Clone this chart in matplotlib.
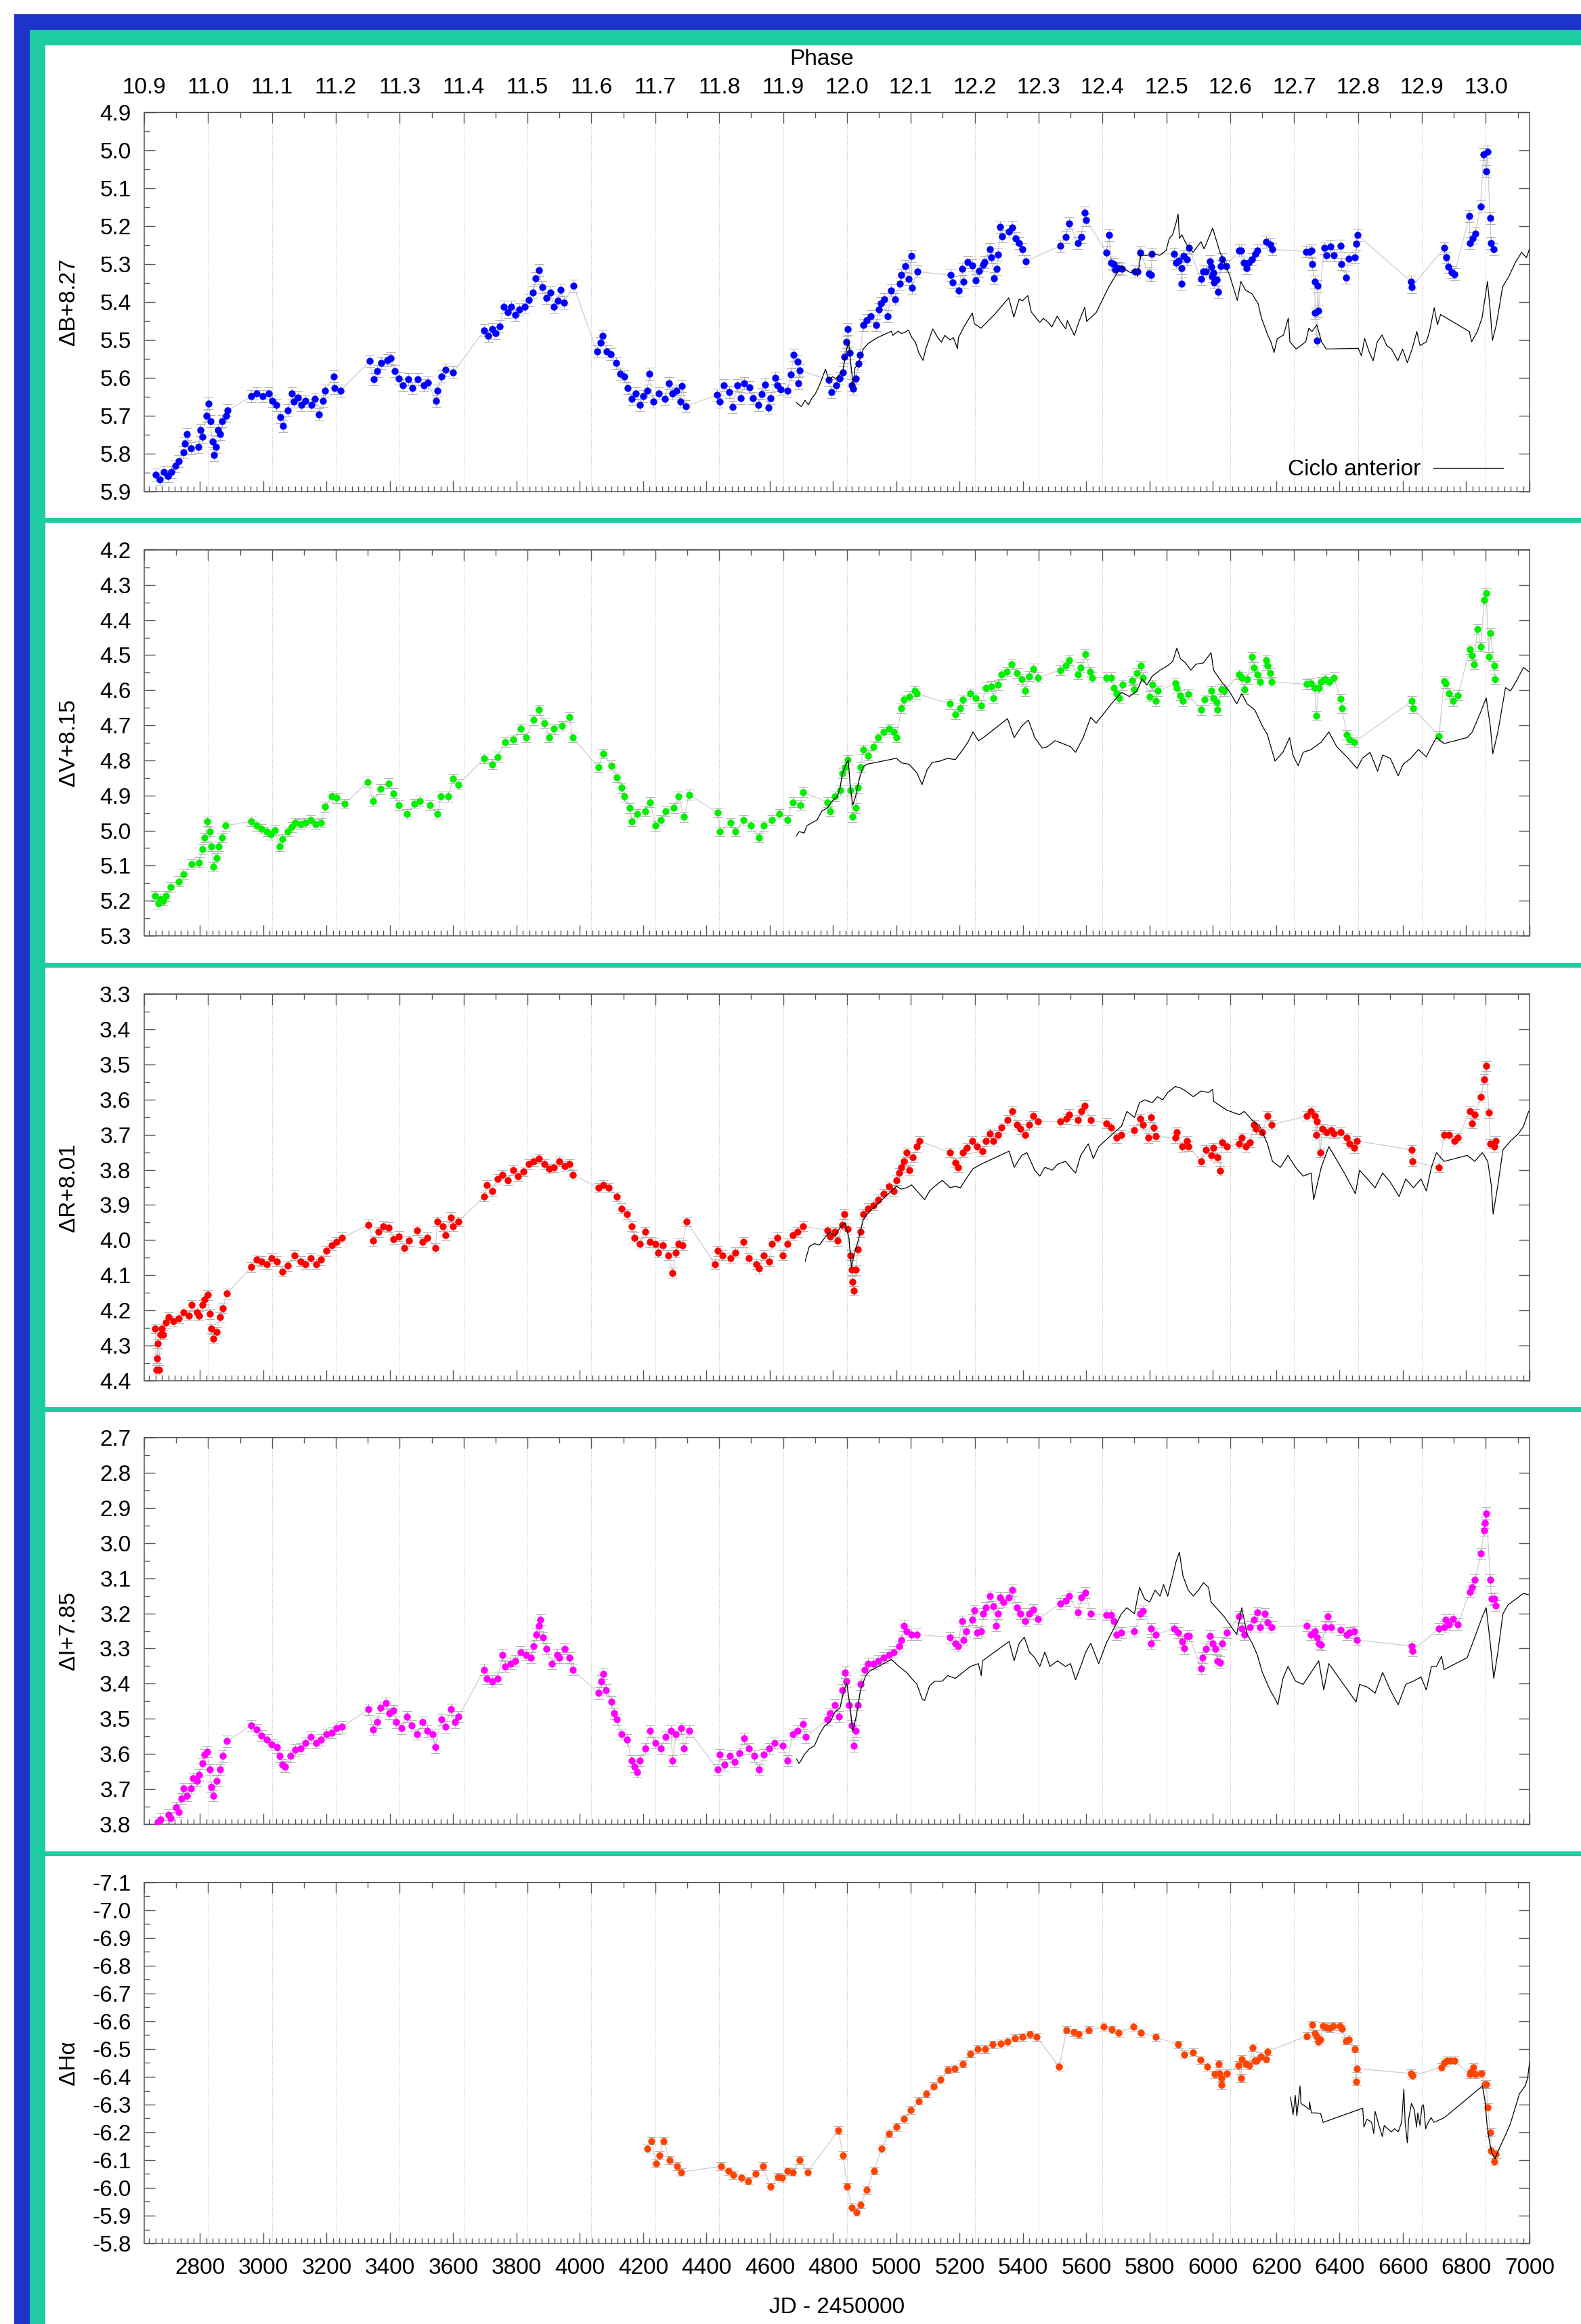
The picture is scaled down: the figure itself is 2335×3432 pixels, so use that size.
import numpy as np
import matplotlib.pyplot as plt
from matplotlib.patches import Rectangle
from matplotlib.ticker import MultipleLocator, FormatStrFormatter

plt.rcParams['font.family'] = ['Liberation Sans', 'DejaVu Sans']
plt.rcParams['axes.unicode_minus'] = False

# ---------------------------------------------------------------- data
# (JD - 2450000, magnitude) for the current cycle, per filter
B_OBS = [
    (2661, 5.856), (2673, 5.867), (2685, 5.848), (2698, 5.859), (2710, 5.848), (2722, 5.833),
    (2734, 5.819), (2747, 5.797), (2753, 5.774), (2759, 5.748), (2771, 5.785), (2796, 5.782),
    (2802, 5.737), (2808, 5.756), (2820, 5.700), (2827, 5.667), (2833, 5.715), (2839, 5.767),
    (2845, 5.804), (2851, 5.782), (2857, 5.737), (2863, 5.748), (2870, 5.715), (2882, 5.700),
    (2888, 5.686), (2962, 5.649), (2980, 5.641), (2998, 5.649), (3017, 5.641), (3029, 5.660),
    (3041, 5.671), (3054, 5.704), (3063, 5.726), (3078, 5.686), (3090, 5.641), (3097, 5.663),
    (3109, 5.652), (3121, 5.671), (3133, 5.660), (3152, 5.671), (3164, 5.656), (3176, 5.697),
    (3189, 5.660), (3195, 5.634), (3222, 5.597), (3225, 5.627), (3244, 5.634), (3336, 5.556),
    (3348, 5.604), (3360, 5.582), (3373, 5.560), (3391, 5.553), (3403, 5.549), (3416, 5.582),
    (3428, 5.601), (3440, 5.619), (3459, 5.604), (3471, 5.627), (3489, 5.604), (3508, 5.619),
    (3520, 5.612), (3545, 5.660), (3551, 5.634), (3563, 5.597), (3575, 5.578), (3600, 5.586),
    (3698, 5.475), (3710, 5.490), (3723, 5.471), (3735, 5.482), (3747, 5.464), (3759, 5.412),
    (3772, 5.427), (3784, 5.412), (3796, 5.434), (3808, 5.420), (3827, 5.412), (3839, 5.394),
    (3852, 5.375), (3861, 5.338), (3870, 5.316), (3882, 5.360), (3894, 5.390), (3907, 5.375),
    (3919, 5.412), (3931, 5.397), (3940, 5.368), (3950, 5.401), (3980, 5.357), (4054, 5.530),
    (4066, 5.508), (4072, 5.490), (4085, 5.530), (4097, 5.538), (4115, 5.560), (4128, 5.590),
    (4140, 5.597), (4152, 5.627), (4165, 5.656), (4177, 5.641), (4189, 5.671), (4201, 5.649),
    (4213, 5.634), (4220, 5.590), (4232, 5.663), (4250, 5.641), (4269, 5.656), (4281, 5.615),
    (4293, 5.641), (4306, 5.634), (4318, 5.663), (4323, 5.622), (4336, 5.675), (4433, 5.645),
    (4443, 5.662), (4454, 5.619), (4471, 5.637), (4482, 5.676), (4498, 5.619), (4509, 5.654),
    (4520, 5.614), (4536, 5.625), (4547, 5.654), (4563, 5.671), (4574, 5.642), (4585, 5.617),
    (4596, 5.679), (4602, 5.654), (4618, 5.600), (4624, 5.619), (4634, 5.631), (4656, 5.634),
    (4667, 5.591), (4676, 5.540), (4689, 5.557), (4691, 5.614), (4694, 5.580), (4787, 5.605),
    (4795, 5.637), (4809, 5.619), (4820, 5.602), (4831, 5.585), (4836, 5.545), (4842, 5.506),
    (4847, 5.471), (4853, 5.534), (4858, 5.619), (4864, 5.628), (4872, 5.602), (4880, 5.563),
    (4885, 5.540), (4896, 5.460), (4907, 5.449), (4918, 5.437), (4935, 5.460), (4945, 5.420),
    (4951, 5.403), (4962, 5.392), (4973, 5.437), (4984, 5.369), (4995, 5.392), (5011, 5.352),
    (5016, 5.329), (5027, 5.306), (5038, 5.340), (5047, 5.278), (5049, 5.363), (5066, 5.320),
    (5172, 5.329), (5177, 5.349), (5196, 5.369), (5207, 5.312), (5211, 5.346), (5224, 5.295),
    (5240, 5.303), (5251, 5.343), (5262, 5.318), (5273, 5.301), (5278, 5.295), (5295, 5.261),
    (5300, 5.283), (5309, 5.338), (5317, 5.312), (5322, 5.275), (5327, 5.201), (5333, 5.227),
    (5355, 5.215), (5366, 5.204), (5377, 5.232), (5387, 5.244), (5398, 5.261), (5409, 5.292),
    (5518, 5.252), (5535, 5.229), (5546, 5.192), (5573, 5.244), (5584, 5.229), (5595, 5.164),
    (5600, 5.184), (5664, 5.269), (5671, 5.223), (5679, 5.296), (5686, 5.300), (5691, 5.314),
    (5701, 5.310), (5713, 5.312), (5754, 5.319), (5762, 5.319), (5770, 5.269), (5797, 5.325),
    (5805, 5.328), (5807, 5.273), (5877, 5.273), (5884, 5.296), (5892, 5.291), (5900, 5.310),
    (5901, 5.352), (5907, 5.278), (5917, 5.287), (5924, 5.257), (5962, 5.340), (5970, 5.319),
    (5977, 5.319), (5990, 5.293), (5994, 5.307), (5997, 5.332), (6002, 5.323), (6004, 5.349),
    (6012, 5.341), (6017, 5.373), (6024, 5.305), (6029, 5.287), (6042, 5.305), (6082, 5.264),
    (6089, 5.264), (6097, 5.296), (6105, 5.310), (6113, 5.296), (6123, 5.287), (6133, 5.273),
    (6140, 5.264), (6168, 5.241), (6181, 5.249), (6188, 5.261), (6295, 5.267), (6305, 5.267),
    (6311, 5.264), (6313, 5.300), (6321, 5.346), (6323, 5.428), (6328, 5.501), (6331, 5.358),
    (6333, 5.424), (6351, 5.257), (6358, 5.276), (6371, 5.253), (6381, 5.276), (6403, 5.252),
    (6406, 5.300), (6421, 5.335), (6428, 5.285), (6449, 5.283), (6452, 5.246), (6456, 5.223),
    (6626, 5.346), (6628, 5.360), (6731, 5.258), (6737, 5.283), (6744, 5.307), (6755, 5.321),
    (6763, 5.326), (6810, 5.173), (6812, 5.244), (6820, 5.232), (6828, 5.220), (6845, 5.148),
    (6855, 5.011), (6863, 5.056), (6867, 5.003), (6875, 5.178), (6878, 5.244), (6887, 5.261),
]

V_OBS = [
    (2659, 5.187), (2668, 5.208), (2676, 5.195), (2684, 5.200), (2692, 5.187), (2708, 5.162),
    (2733, 5.145), (2749, 5.124), (2774, 5.095), (2798, 5.091), (2807, 5.053), (2815, 5.020),
    (2823, 4.974), (2831, 5.003), (2836, 5.045), (2843, 5.103), (2852, 5.078), (2859, 5.045),
    (2869, 5.020), (2880, 4.986), (2962, 4.974), (2978, 4.986), (2995, 4.995), (3011, 5.003),
    (3023, 5.011), (3036, 4.999), (3052, 5.045), (3060, 5.024), (3077, 5.003), (3090, 4.990),
    (3101, 4.978), (3118, 4.982), (3134, 4.978), (3150, 4.970), (3165, 4.982), (3183, 4.978),
    (3196, 4.932), (3216, 4.903), (3232, 4.907), (3257, 4.924), (3330, 4.861), (3347, 4.915),
    (3371, 4.882), (3396, 4.865), (3412, 4.894), (3428, 4.928), (3453, 4.953), (3478, 4.924),
    (3494, 4.915), (3527, 4.928), (3551, 4.953), (3560, 4.903), (3584, 4.903), (3600, 4.852),
    (3617, 4.869), (3698, 4.794), (3723, 4.811), (3740, 4.790), (3764, 4.748), (3789, 4.740),
    (3813, 4.710), (3830, 4.735), (3854, 4.685), (3870, 4.656), (3887, 4.694), (3903, 4.735),
    (3919, 4.710), (3944, 4.702), (3968, 4.677), (3977, 4.735), (4059, 4.819), (4075, 4.781),
    (4100, 4.815), (4116, 4.848), (4132, 4.878), (4140, 4.903), (4157, 4.936), (4165, 4.974),
    (4181, 4.953), (4206, 4.944), (4222, 4.919), (4239, 4.986), (4255, 4.970), (4271, 4.944),
    (4296, 4.936), (4312, 4.903), (4329, 4.961), (4345, 4.898), (4435, 4.949), (4443, 5.003),
    (4476, 4.978), (4492, 5.003), (4517, 4.970), (4541, 4.986), (4566, 5.020), (4582, 4.986),
    (4607, 4.970), (4631, 4.953), (4656, 4.970), (4672, 4.919), (4697, 4.928), (4705, 4.890),
    (4782, 4.919), (4790, 4.944), (4806, 4.902), (4822, 4.886), (4830, 4.836), (4838, 4.819),
    (4846, 4.798), (4854, 4.886), (4862, 4.961), (4871, 4.936), (4879, 4.878), (4887, 4.819),
    (4895, 4.769), (4911, 4.786), (4927, 4.761), (4943, 4.735), (4960, 4.719), (4976, 4.710),
    (4992, 4.719), (5000, 4.735), (5016, 4.652), (5024, 4.627), (5040, 4.618), (5057, 4.602),
    (5065, 4.610), (5170, 4.639), (5186, 4.668), (5202, 4.652), (5210, 4.627), (5234, 4.610),
    (5251, 4.622), (5267, 4.643), (5283, 4.593), (5299, 4.589), (5307, 4.622), (5320, 4.585),
    (5331, 4.555), (5348, 4.547), (5364, 4.526), (5380, 4.551), (5396, 4.568), (5407, 4.602),
    (5420, 4.560), (5433, 4.539), (5448, 4.564), (5517, 4.543), (5534, 4.530), (5546, 4.514),
    (5574, 4.555), (5582, 4.535), (5598, 4.497), (5611, 4.547), (5618, 4.564), (5663, 4.564),
    (5679, 4.564), (5687, 4.593), (5695, 4.610), (5703, 4.622), (5715, 4.585), (5744, 4.572),
    (5752, 4.597), (5760, 4.551), (5773, 4.530), (5779, 4.564), (5800, 4.618), (5808, 4.585),
    (5820, 4.631), (5825, 4.602), (5881, 4.581), (5886, 4.593), (5897, 4.614), (5905, 4.631),
    (5922, 4.612), (5962, 4.656), (5973, 4.627), (5994, 4.602), (6002, 4.622), (6011, 4.635),
    (6015, 4.656), (6027, 4.597), (6035, 4.602), (6083, 4.555), (6091, 4.564), (6099, 4.597),
    (6108, 4.568), (6124, 4.505), (6129, 4.535), (6140, 4.555), (6148, 4.576), (6167, 4.514),
    (6172, 4.530), (6180, 4.551), (6185, 4.576), (6297, 4.583), (6310, 4.581), (6323, 4.593),
    (6326, 4.673), (6334, 4.593), (6342, 4.576), (6355, 4.568), (6366, 4.576), (6382, 4.564),
    (6403, 4.625), (6407, 4.652), (6423, 4.727), (6431, 4.740), (6447, 4.748), (6628, 4.631),
    (6633, 4.652), (6714, 4.731), (6730, 4.575), (6735, 4.580), (6746, 4.610), (6759, 4.631),
    (6774, 4.614), (6811, 4.484), (6819, 4.501), (6824, 4.526), (6835, 4.426), (6847, 4.476),
    (6856, 4.342), (6863, 4.324), (6872, 4.505), (6876, 4.438), (6889, 4.530), (6890, 4.568),
]

R_OBS = [
    (2659, 4.252), (2662, 4.369), (2664, 4.336), (2667, 4.294), (2670, 4.369), (2676, 4.269),
    (2679, 4.252), (2684, 4.269), (2692, 4.235), (2700, 4.219), (2717, 4.231), (2733, 4.223),
    (2749, 4.206), (2766, 4.215), (2774, 4.185), (2790, 4.206), (2798, 4.215), (2807, 4.185),
    (2815, 4.169), (2826, 4.156), (2831, 4.210), (2836, 4.252), (2843, 4.281), (2852, 4.261),
    (2864, 4.219), (2872, 4.194), (2885, 4.152), (2962, 4.077), (2978, 4.056), (2995, 4.060),
    (3011, 4.068), (3027, 4.052), (3044, 4.060), (3060, 4.089), (3077, 4.073), (3098, 4.043),
    (3118, 4.060), (3134, 4.068), (3150, 4.052), (3167, 4.068), (3183, 4.056), (3199, 4.031),
    (3216, 4.014), (3232, 4.006), (3249, 3.993), (3333, 3.956), (3347, 4.002), (3363, 3.977),
    (3379, 3.960), (3396, 3.964), (3412, 3.997), (3428, 3.989), (3445, 4.022), (3461, 4.002),
    (3486, 3.972), (3502, 4.006), (3518, 3.993), (3543, 4.022), (3551, 3.947), (3567, 3.960),
    (3576, 3.985), (3592, 3.935), (3600, 3.960), (3617, 3.947), (3698, 3.876), (3707, 3.843),
    (3723, 3.860), (3740, 3.826), (3756, 3.814), (3772, 3.830), (3789, 3.801), (3805, 3.818),
    (3821, 3.805), (3838, 3.784), (3854, 3.776), (3870, 3.768), (3887, 3.784), (3903, 3.797),
    (3919, 3.793), (3936, 3.776), (3952, 3.789), (3968, 3.784), (3977, 3.814), (4059, 3.851),
    (4075, 3.843), (4091, 3.851), (4116, 3.876), (4132, 3.910), (4149, 3.926), (4165, 3.960),
    (4173, 3.993), (4190, 4.010), (4206, 3.977), (4222, 4.006), (4239, 4.010), (4247, 4.035),
    (4263, 4.014), (4280, 4.043), (4293, 4.093), (4304, 4.035), (4312, 4.010), (4325, 4.014),
    (4337, 3.947), (4427, 4.068), (4435, 4.031), (4451, 4.043), (4476, 4.052), (4492, 4.035),
    (4517, 4.006), (4533, 4.052), (4558, 4.068), (4566, 4.081), (4582, 4.043), (4599, 4.060),
    (4607, 4.010), (4623, 3.993), (4640, 4.043), (4656, 4.010), (4672, 3.985), (4689, 3.977),
    (4705, 3.960), (4782, 3.972), (4790, 3.989), (4806, 3.977), (4814, 4.002), (4830, 3.956),
    (4835, 3.926), (4846, 3.968), (4854, 4.043), (4859, 4.085), (4862, 4.118), (4866, 4.144),
    (4871, 4.085), (4879, 4.027), (4887, 3.977), (4895, 3.926), (4911, 3.910), (4927, 3.901),
    (4943, 3.885), (4960, 3.868), (4976, 3.847), (4992, 3.860), (5000, 3.830), (5008, 3.809),
    (5016, 3.793), (5024, 3.776), (5032, 3.751), (5040, 3.801), (5052, 3.764), (5065, 3.734),
    (5073, 3.718), (5170, 3.751), (5186, 3.780), (5194, 3.793), (5210, 3.751), (5223, 3.738),
    (5239, 3.718), (5255, 3.734), (5272, 3.747), (5283, 3.718), (5296, 3.697), (5307, 3.718),
    (5320, 3.701), (5331, 3.680), (5352, 3.659), (5367, 3.634), (5380, 3.672), (5391, 3.684),
    (5407, 3.701), (5420, 3.672), (5433, 3.647), (5448, 3.663), (5517, 3.663), (5537, 3.655),
    (5546, 3.642), (5574, 3.659), (5585, 3.634), (5595, 3.617), (5614, 3.659), (5663, 3.667),
    (5679, 3.680), (5695, 3.709), (5711, 3.701), (5752, 3.688), (5771, 3.655), (5779, 3.672),
    (5795, 3.709), (5804, 3.651), (5812, 3.680), (5820, 3.705), (5881, 3.709), (5886, 3.693),
    (5902, 3.734), (5917, 3.718), (5922, 3.733), (5962, 3.776), (5978, 3.743), (5994, 3.759),
    (6002, 3.738), (6015, 3.764), (6023, 3.803), (6028, 3.722), (6043, 3.734), (6083, 3.726),
    (6091, 3.709), (6103, 3.734), (6116, 3.722), (6129, 3.672), (6135, 3.684), (6156, 3.693),
    (6172, 3.647), (6185, 3.672), (6297, 3.647), (6310, 3.634), (6321, 3.647), (6326, 3.701),
    (6329, 3.663), (6339, 3.751), (6345, 3.684), (6358, 3.693), (6374, 3.688), (6382, 3.697),
    (6403, 3.693), (6423, 3.709), (6431, 3.726), (6447, 3.738), (6455, 3.718), (6628, 3.743),
    (6630, 3.776), (6714, 3.793), (6730, 3.701), (6746, 3.701), (6762, 3.718), (6774, 3.708),
    (6811, 3.634), (6819, 3.667), (6827, 3.642), (6847, 3.592), (6856, 3.542), (6863, 3.505),
    (6872, 3.638), (6876, 3.726), (6889, 3.734), (6892, 3.718),
]

I_OBS = [
    (2667, 3.794), (2676, 3.786), (2700, 3.773), (2708, 3.782), (2725, 3.752), (2733, 3.765),
    (2741, 3.727), (2749, 3.698), (2758, 3.719), (2771, 3.698), (2777, 3.669), (2790, 3.677),
    (2798, 3.660), (2807, 3.627), (2815, 3.602), (2823, 3.594), (2831, 3.644), (2836, 3.694),
    (2843, 3.719), (2852, 3.677), (2864, 3.644), (2872, 3.606), (2885, 3.564), (2962, 3.519),
    (2978, 3.531), (2995, 3.548), (3011, 3.560), (3027, 3.573), (3044, 3.581), (3052, 3.606),
    (3060, 3.631), (3068, 3.636), (3085, 3.606), (3101, 3.589), (3118, 3.585), (3134, 3.569),
    (3150, 3.552), (3167, 3.569), (3183, 3.560), (3199, 3.544), (3216, 3.539), (3232, 3.527),
    (3249, 3.523), (3333, 3.473), (3347, 3.531), (3360, 3.510), (3371, 3.468), (3388, 3.456),
    (3399, 3.485), (3412, 3.477), (3420, 3.510), (3436, 3.527), (3453, 3.494), (3469, 3.519),
    (3486, 3.544), (3502, 3.510), (3518, 3.535), (3535, 3.544), (3543, 3.581), (3562, 3.502),
    (3576, 3.523), (3592, 3.473), (3605, 3.510), (3617, 3.494), (3698, 3.360), (3707, 3.385),
    (3723, 3.393), (3740, 3.385), (3756, 3.318), (3764, 3.351), (3781, 3.343), (3797, 3.335),
    (3813, 3.310), (3830, 3.318), (3846, 3.326), (3854, 3.293), (3862, 3.260), (3870, 3.235),
    (3875, 3.218), (3883, 3.268), (3895, 3.301), (3911, 3.343), (3928, 3.318), (3936, 3.326),
    (3952, 3.301), (3968, 3.326), (3977, 3.360), (4059, 3.427), (4067, 3.393), (4075, 3.372),
    (4083, 3.418), (4100, 3.452), (4108, 3.485), (4116, 3.502), (4132, 3.544), (4149, 3.560),
    (4165, 3.619), (4173, 3.636), (4181, 3.652), (4190, 3.619), (4206, 3.585), (4222, 3.535),
    (4239, 3.569), (4255, 3.585), (4271, 3.552), (4288, 3.535), (4293, 3.619), (4304, 3.544),
    (4320, 3.527), (4329, 3.585), (4345, 3.535), (4435, 3.644), (4443, 3.602), (4456, 3.631),
    (4473, 3.606), (4489, 3.623), (4505, 3.598), (4518, 3.556), (4533, 3.585), (4550, 3.606),
    (4566, 3.644), (4582, 3.602), (4599, 3.585), (4615, 3.569), (4640, 3.577), (4656, 3.619),
    (4672, 3.544), (4689, 3.535), (4705, 3.514), (4713, 3.552), (4782, 3.502), (4790, 3.485),
    (4806, 3.460), (4819, 3.494), (4830, 3.418), (4838, 3.368), (4843, 3.393), (4851, 3.460),
    (4858, 3.519), (4866, 3.577), (4871, 3.535), (4879, 3.460), (4887, 3.402), (4900, 3.360),
    (4911, 3.343), (4927, 3.343), (4943, 3.335), (4960, 3.326), (4976, 3.318), (4992, 3.310),
    (5008, 3.293), (5016, 3.276), (5024, 3.235), (5032, 3.251), (5048, 3.260), (5065, 3.260),
    (5170, 3.268), (5186, 3.285), (5194, 3.293), (5207, 3.222), (5213, 3.276), (5221, 3.251),
    (5239, 3.218), (5246, 3.191), (5255, 3.255), (5267, 3.251), (5275, 3.201), (5283, 3.184),
    (5296, 3.151), (5307, 3.180), (5315, 3.235), (5320, 3.201), (5328, 3.155), (5339, 3.168),
    (5356, 3.155), (5367, 3.134), (5380, 3.184), (5391, 3.201), (5407, 3.222), (5420, 3.201),
    (5433, 3.189), (5448, 3.216), (5517, 3.172), (5534, 3.164), (5546, 3.151), (5574, 3.197),
    (5585, 3.155), (5598, 3.141), (5614, 3.201), (5663, 3.205), (5679, 3.205), (5687, 3.222),
    (5695, 3.260), (5711, 3.255), (5752, 3.251), (5771, 3.201), (5779, 3.193), (5804, 3.243),
    (5805, 3.285), (5820, 3.260), (5878, 3.243), (5889, 3.255), (5902, 3.280), (5909, 3.300),
    (5917, 3.264), (5925, 3.264), (5962, 3.356), (5967, 3.326), (5978, 3.301), (5991, 3.264),
    (5999, 3.285), (6007, 3.301), (6015, 3.335), (6022, 3.339), (6028, 3.285), (6043, 3.255),
    (6083, 3.209), (6091, 3.243), (6099, 3.260), (6116, 3.239), (6129, 3.218), (6140, 3.197),
    (6148, 3.239), (6164, 3.201), (6172, 3.226), (6185, 3.239), (6297, 3.235), (6310, 3.260),
    (6323, 3.251), (6329, 3.268), (6334, 3.285), (6342, 3.289), (6355, 3.239), (6362, 3.209),
    (6374, 3.239), (6403, 3.247), (6423, 3.260), (6431, 3.255), (6447, 3.251), (6455, 3.276),
    (6628, 3.293), (6630, 3.306), (6714, 3.243), (6730, 3.239), (6735, 3.218), (6746, 3.231),
    (6759, 3.216), (6774, 3.231), (6811, 3.139), (6819, 3.126), (6827, 3.105), (6847, 3.030),
    (6856, 2.963), (6859, 2.942), (6864, 2.915), (6876, 3.105), (6880, 3.159), (6889, 3.158),
    (6892, 3.178),
]

HA_OBS = [
    (4213, -6.142), (4227, -6.169), (4241, -6.089), (4251, -6.117), (4265, -6.169), (4284, -6.100),
    (4307, -6.078), (4321, -6.057), (4447, -6.078), (4470, -6.060), (4485, -6.046), (4510, -6.036),
    (4532, -6.025), (4555, -6.050), (4578, -6.078), (4602, -6.004), (4625, -6.040), (4639, -6.036),
    (4655, -6.060), (4672, -6.057), (4695, -6.100), (4719, -6.057), (4817, -6.207), (4831, -6.117),
    (4845, -6.004), (4859, -5.929), (4873, -5.913), (4887, -5.940), (4906, -5.993), (4929, -6.062),
    (4953, -6.142), (4976, -6.196), (5000, -6.220), (5023, -6.249), (5045, -6.280), (5070, -6.313),
    (5095, -6.340), (5117, -6.367), (5140, -6.390), (5163, -6.425), (5185, -6.430), (5210, -6.447),
    (5234, -6.484), (5257, -6.500), (5280, -6.500), (5304, -6.516), (5330, -6.520), (5351, -6.527),
    (5375, -6.540), (5397, -6.543), (5421, -6.553), (5444, -6.543), (5514, -6.436), (5538, -6.569),
    (5560, -6.560), (5575, -6.553), (5608, -6.569), (5655, -6.580), (5680, -6.570), (5702, -6.559),
    (5748, -6.580), (5772, -6.559), (5819, -6.543), (5889, -6.516), (5910, -6.480), (5936, -6.489),
    (5960, -6.460), (5982, -6.436), (6006, -6.409), (6019, -6.447), (6020, -6.412), (6026, -6.395),
    (6027, -6.370), (6045, -6.412), (6081, -6.441), (6088, -6.395), (6092, -6.464), (6103, -6.447),
    (6114, -6.441), (6125, -6.506), (6132, -6.458), (6139, -6.458), (6150, -6.473), (6169, -6.464),
    (6172, -6.491), (6296, -6.547), (6313, -6.587), (6322, -6.555), (6329, -6.543), (6333, -6.526),
    (6340, -6.534), (6348, -6.583), (6358, -6.578), (6369, -6.575), (6380, -6.583), (6402, -6.583),
    (6407, -6.572), (6421, -6.530), (6429, -6.534), (6448, -6.501), (6452, -6.384), (6455, -6.430),
    (6626, -6.412), (6631, -6.404), (6723, -6.435), (6731, -6.452), (6738, -6.458), (6749, -6.458),
    (6762, -6.458), (6811, -6.409), (6813, -6.416), (6822, -6.435), (6829, -6.409), (6848, -6.411),
    (6859, -6.373), (6864, -6.373), (6867, -6.291), (6877, -6.200), (6879, -6.134), (6888, -6.094),
    (6894, -6.122),
]

# previous cycle, shifted by one period ("Ciclo anterior")
B_PREV = [
    (4684, 5.665), (4700, 5.676), (4711, 5.659), (4722, 5.671), (4733, 5.654), (4744, 5.642),
    (4754, 5.625), (4765, 5.602), (4776, 5.577), (4787, 5.608), (4798, 5.597), (4809, 5.602),
    (4820, 5.591), (4831, 5.580), (4842, 5.528), (4849, 5.506), (4856, 5.563), (4864, 5.625),
    (4869, 5.574), (4880, 5.563), (4896, 5.523), (4913, 5.508), (4940, 5.494), (4984, 5.477),
    (4989, 5.488), (5005, 5.477), (5016, 5.483), (5027, 5.480), (5038, 5.474), (5049, 5.494),
    (5060, 5.506), (5071, 5.534), (5084, 5.554), (5093, 5.523), (5115, 5.471), (5131, 5.494),
    (5142, 5.506), (5153, 5.488), (5169, 5.500), (5180, 5.494), (5193, 5.523), (5196, 5.494),
    (5213, 5.466), (5240, 5.429), (5246, 5.457), (5267, 5.469), (5311, 5.432), (5355, 5.389),
    (5371, 5.440), (5388, 5.392), (5398, 5.397), (5415, 5.383), (5426, 5.426), (5442, 5.443),
    (5453, 5.454), (5464, 5.443), (5480, 5.454), (5491, 5.466), (5508, 5.437), (5518, 5.451),
    (5535, 5.471), (5540, 5.449), (5562, 5.488), (5578, 5.449), (5595, 5.414), (5601, 5.451),
    (5631, 5.428), (5671, 5.360), (5711, 5.305), (5721, 5.314), (5741, 5.323), (5751, 5.314),
    (5762, 5.332), (5772, 5.277), (5792, 5.277), (5812, 5.273), (5832, 5.277), (5852, 5.264),
    (5862, 5.232), (5872, 5.223), (5882, 5.196), (5890, 5.168), (5894, 5.232), (5902, 5.223),
    (5912, 5.241), (5922, 5.255), (5937, 5.269), (5962, 5.241), (5972, 5.260), (5999, 5.205),
    (6022, 5.269), (6052, 5.328), (6077, 5.396), (6088, 5.346), (6103, 5.369), (6123, 5.378),
    (6143, 5.405), (6153, 5.442), (6173, 5.487), (6183, 5.505), (6193, 5.533), (6203, 5.497),
    (6223, 5.487), (6238, 5.442), (6243, 5.505), (6263, 5.524), (6293, 5.505), (6303, 5.469),
    (6313, 5.478), (6328, 5.460), (6343, 5.505), (6358, 5.524), (6459, 5.522), (6469, 5.542),
    (6479, 5.496), (6494, 5.533), (6506, 5.555), (6519, 5.505), (6534, 5.487), (6549, 5.515),
    (6564, 5.524), (6584, 5.555), (6599, 5.524), (6614, 5.560), (6629, 5.524), (6644, 5.478),
    (6654, 5.515), (6674, 5.505), (6684, 5.478), (6699, 5.415), (6709, 5.460), (6719, 5.433),
    (6810, 5.478), (6817, 5.505), (6835, 5.478), (6850, 5.442), (6867, 5.346), (6875, 5.415),
    (6883, 5.501), (6895, 5.460), (6915, 5.360), (6935, 5.332), (6955, 5.296), (6975, 5.269),
    (6990, 5.283), (7000, 5.260),
]

V_PREV = [
    (4684, 5.015), (4693, 5.003), (4709, 5.007), (4717, 4.986), (4733, 4.978), (4749, 4.970),
    (4765, 4.944), (4782, 4.936), (4798, 4.915), (4814, 4.902), (4822, 4.878), (4830, 4.836),
    (4841, 4.811), (4848, 4.798), (4854, 4.869), (4862, 4.928), (4871, 4.903), (4883, 4.852),
    (4895, 4.819), (4906, 4.811), (5000, 4.794), (5016, 4.807), (5040, 4.811), (5065, 4.836),
    (5081, 4.869), (5097, 4.827), (5113, 4.806), (5137, 4.802), (5162, 4.794), (5186, 4.798),
    (5210, 4.769), (5226, 4.748), (5242, 4.719), (5259, 4.744), (5275, 4.735), (5351, 4.681),
    (5372, 4.735), (5396, 4.702), (5417, 4.685), (5437, 4.735), (5461, 4.765), (5477, 4.761),
    (5501, 4.744), (5525, 4.752), (5550, 4.761), (5566, 4.777), (5590, 4.735), (5614, 4.677),
    (5631, 4.694), (5679, 4.639), (5711, 4.606), (5736, 4.618), (5760, 4.602), (5776, 4.568),
    (5792, 4.585), (5808, 4.560), (5833, 4.543), (5857, 4.530), (5873, 4.518), (5886, 4.480),
    (5897, 4.510), (5913, 4.522), (5930, 4.543), (5946, 4.526), (5970, 4.522), (5994, 4.493),
    (6002, 4.543), (6027, 4.576), (6051, 4.602), (6075, 4.639), (6091, 4.610), (6108, 4.639),
    (6132, 4.656), (6156, 4.702), (6172, 4.727), (6196, 4.802), (6221, 4.777), (6242, 4.735),
    (6253, 4.786), (6269, 4.815), (6285, 4.777), (6310, 4.769), (6342, 4.748), (6366, 4.719),
    (6391, 4.761), (6423, 4.790), (6455, 4.823), (6472, 4.794), (6496, 4.777), (6520, 4.831),
    (6536, 4.785), (6560, 4.794), (6585, 4.844), (6601, 4.811), (6625, 4.794), (6649, 4.769),
    (6674, 4.790), (6690, 4.761), (6706, 4.735), (6730, 4.752), (6803, 4.735), (6819, 4.719),
    (6843, 4.668), (6863, 4.622), (6876, 4.702), (6884, 4.781), (6900, 4.719), (6924, 4.593),
    (6940, 4.602), (6957, 4.576), (6981, 4.535), (6997, 4.547),
]

R_PREV = [
    (4712, 4.060), (4717, 4.043), (4725, 4.018), (4741, 4.010), (4757, 4.014), (4774, 3.993),
    (4790, 3.977), (4806, 3.989), (4822, 3.964), (4838, 3.951), (4850, 3.993), (4858, 4.077),
    (4866, 4.043), (4879, 4.002), (4895, 3.943), (4911, 3.922), (5000, 3.847), (5016, 3.855),
    (5032, 3.851), (5048, 3.843), (5065, 3.860), (5089, 3.885), (5105, 3.860), (5121, 3.847),
    (5145, 3.830), (5170, 3.851), (5186, 3.847), (5202, 3.851), (5226, 3.818), (5242, 3.797),
    (5267, 3.784), (5356, 3.747), (5372, 3.793), (5396, 3.759), (5412, 3.751), (5437, 3.801),
    (5453, 3.818), (5469, 3.793), (5493, 3.801), (5509, 3.784), (5534, 3.776), (5550, 3.793),
    (5566, 3.809), (5582, 3.759), (5606, 3.726), (5622, 3.768), (5639, 3.734), (5679, 3.701),
    (5711, 3.676), (5728, 3.634), (5752, 3.651), (5768, 3.609), (5784, 3.601), (5808, 3.609),
    (5825, 3.592), (5841, 3.601), (5857, 3.580), (5881, 3.563), (5897, 3.567), (5914, 3.576),
    (5938, 3.592), (5962, 3.576), (5986, 3.580), (5999, 3.571), (6002, 3.605), (6043, 3.630),
    (6083, 3.643), (6099, 3.634), (6124, 3.659), (6148, 3.676), (6172, 3.726), (6188, 3.776),
    (6213, 3.793), (6237, 3.759), (6261, 3.793), (6285, 3.818), (6310, 3.809), (6318, 3.885),
    (6342, 3.793), (6366, 3.734), (6415, 3.809), (6450, 3.868), (6463, 3.801), (6488, 3.826),
    (6512, 3.851), (6536, 3.809), (6560, 3.835), (6588, 3.876), (6609, 3.826), (6633, 3.851),
    (6657, 3.826), (6674, 3.860), (6690, 3.793), (6706, 3.751), (6730, 3.776), (6803, 3.759),
    (6827, 3.776), (6851, 3.751), (6868, 3.776), (6879, 3.843), (6885, 3.926), (6900, 3.843),
    (6916, 3.743), (6940, 3.718), (6965, 3.697), (6981, 3.676), (6997, 3.634),
]

I_PREV = [
    (4685, 3.615), (4693, 3.627), (4709, 3.602), (4725, 3.585), (4741, 3.577), (4757, 3.544),
    (4774, 3.519), (4790, 3.510), (4806, 3.481), (4822, 3.468), (4835, 3.418), (4843, 3.397),
    (4854, 3.468), (4862, 3.535), (4871, 3.502), (4887, 3.418), (4903, 3.377), (4916, 3.364),
    (4984, 3.331), (5008, 3.351), (5032, 3.368), (5048, 3.385), (5065, 3.402), (5081, 3.443),
    (5089, 3.448), (5105, 3.406), (5121, 3.393), (5145, 3.393), (5162, 3.377), (5186, 3.385),
    (5210, 3.368), (5234, 3.351), (5259, 3.343), (5268, 3.377), (5272, 3.335), (5356, 3.280),
    (5372, 3.335), (5388, 3.285), (5404, 3.268), (5420, 3.310), (5437, 3.326), (5453, 3.351),
    (5469, 3.310), (5485, 3.351), (5509, 3.335), (5534, 3.351), (5550, 3.343), (5566, 3.389),
    (5582, 3.351), (5598, 3.310), (5614, 3.285), (5639, 3.343), (5663, 3.285), (5687, 3.243),
    (5711, 3.201), (5728, 3.184), (5752, 3.201), (5768, 3.126), (5784, 3.159), (5800, 3.168),
    (5817, 3.134), (5833, 3.151), (5844, 3.118), (5857, 3.151), (5873, 3.093), (5884, 3.051),
    (5894, 3.026), (5905, 3.093), (5922, 3.134), (5938, 3.151), (5954, 3.134), (5970, 3.113),
    (5986, 3.126), (5994, 3.168), (6035, 3.209), (6075, 3.260), (6091, 3.184), (6108, 3.260),
    (6124, 3.285), (6140, 3.318), (6156, 3.368), (6180, 3.418), (6196, 3.443), (6205, 3.460),
    (6221, 3.385), (6237, 3.351), (6261, 3.393), (6285, 3.402), (6310, 3.368), (6334, 3.335),
    (6350, 3.418), (6366, 3.343), (6452, 3.452), (6463, 3.402), (6488, 3.410), (6512, 3.427),
    (6536, 3.368), (6560, 3.418), (6585, 3.460), (6609, 3.402), (6633, 3.393), (6657, 3.381),
    (6674, 3.418), (6690, 3.351), (6706, 3.351), (6722, 3.322), (6730, 3.360), (6803, 3.326),
    (6827, 3.268), (6851, 3.209), (6863, 3.184), (6876, 3.285), (6887, 3.385), (6900, 3.310),
    (6916, 3.201), (6932, 3.176), (6957, 3.159), (6981, 3.143), (6997, 3.147),
]

HA_PREV = [
    (6245, -6.327), (6253, -6.264), (6260, -6.333), (6265, -6.259), (6275, -6.367), (6278, -6.304),
    (6293, -6.293), (6304, -6.282), (6305, -6.310), (6311, -6.270), (6326, -6.270), (6340, -6.268),
    (6348, -6.236), (6473, -6.287), (6477, -6.219), (6486, -6.247), (6494, -6.242), (6501, -6.236),
    (6508, -6.196), (6512, -6.276), (6523, -6.230), (6535, -6.185), (6541, -6.225), (6552, -6.213),
    (6563, -6.202), (6574, -6.213), (6585, -6.202), (6596, -6.236), (6603, -6.356), (6607, -6.236),
    (6614, -6.162), (6618, -6.247), (6627, -6.304), (6636, -6.282), (6643, -6.219), (6647, -6.270),
    (6654, -6.225), (6660, -6.293), (6665, -6.299), (6672, -6.213), (6680, -6.236), (6689, -6.253),
    (6698, -6.236), (6731, -6.253), (6851, -6.367), (6859, -6.316), (6866, -6.225), (6873, -6.168),
    (6882, -6.122), (6891, -6.105), (6899, -6.128), (6910, -6.156), (6924, -6.190), (6939, -6.230),
    (6953, -6.282), (6968, -6.339), (6975, -6.350), (6986, -6.367), (6994, -6.395), (7000, -6.452),
]

# typical photometric error per filter
ERRORS = {'B': 0.016, 'V': 0.014, 'R': 0.014, 'I': 0.016, 'Ha': 0.014}

# ephemeris used for the phase axis
PHASE_REF_JD = 2624.0
PHASE_REF = 10.9
PERIOD = 2018.0


def to_phase(jd):
    return PHASE_REF + (np.asarray(jd) - PHASE_REF_JD) / PERIOD


def to_jd(ph):
    return PHASE_REF_JD + (np.asarray(ph) - PHASE_REF) * PERIOD


# ---------------------------------------------------------------- layout
W, H = 2335, 3432
fig = plt.figure(figsize=(W / 100, H / 100), dpi=100)

BLUE = '#1c34c8'
TEAL = '#1ecba2'


def band(x0, y0, x1, y1, color):
    fig.add_artist(Rectangle((x0 / W, 1 - y1 / H), (x1 - x0) / W, (y1 - y0) / H,
                             transform=fig.transFigure, color=color, lw=0, zorder=0))


band(21, 21, 44, H, BLUE)
band(21, 21, W, 44, BLUE)
band(44, 44, 67, H, TEAL)
band(44, 44, W, 67, TEAL)
for yc in (768, 1425, 2081, 2737):
    band(67, yc - 3.5, W, yc + 3.5, TEAL)

panels = [
    dict(obs=B_OBS, prev=B_PREV, color='#0000ff', err=ERRORS['B'], label='ΔB+8.27',
         ylim=(4.9, 5.9), box=(166, 726)),
    dict(obs=V_OBS, prev=V_PREV, color='#00f000', err=ERRORS['V'], label='ΔV+8.15',
         ylim=(4.2, 5.3), box=(812, 1382)),
    dict(obs=R_OBS, prev=R_PREV, color='#ff0000', err=ERRORS['R'], label='ΔR+8.01',
         ylim=(3.3, 4.4), box=(1468, 2039)),
    dict(obs=I_OBS, prev=I_PREV, color='#ff00ff', err=ERRORS['I'], label='ΔI+7.85',
         ylim=(2.7, 3.8), box=(2123, 2694)),
    dict(obs=HA_OBS, prev=HA_PREV, color='#ff4500', err=ERRORS['Ha'], label='ΔHα',
         ylim=(-7.1, -5.8), box=(2780, 3313)),
]

FS = 24
AX_L, AX_R = 213, 2259
SPINE = '#555555'
phase_major = np.round(np.arange(10.9, 13.05, 0.1), 1)
phase_minor = np.round(np.arange(10.95, 13.1, 0.1), 2)

for i, p in enumerate(panels):
    top, bot = p['box']
    ax = fig.add_axes([AX_L / W, 1 - bot / H, (AX_R - AX_L) / W, (bot - top) / H])

    obs = np.array(sorted(p['obs']))
    prev = np.array(sorted(p['prev']))
    jd, mag = obs[:, 0], obs[:, 1]

    for ph in phase_major[1:]:
        ax.axvline(to_jd(ph), color='#c4c4c4', lw=0.7, ls=(0, (1.5, 2)), zorder=0)

    ax.plot(jd, mag, color='#cccccc', lw=0.9, zorder=1)
    ax.errorbar(jd, mag, yerr=p['err'], fmt='none', ecolor='#b0b0b0',
                elinewidth=0.7, capsize=5, capthick=0.7, zorder=2)
    ax.plot(jd, mag, 'o', color=p['color'], ms=7.5, mec='none', zorder=3)
    prev_line, = ax.plot(prev[:, 0], prev[:, 1], color='black', lw=0.9, zorder=4,
                         label='Ciclo anterior')

    lo, hi = p['ylim']
    ax.set_xlim(2624, 7000)
    ax.set_ylim(hi, lo)
    ax.set_yticks(np.round(np.arange(lo, hi + 0.001, 0.1), 1))
    ax.set_yticks(np.round(np.arange(lo + 0.05, hi, 0.1), 2), minor=True)
    ax.yaxis.set_major_formatter(FormatStrFormatter('%.1f'))
    ax.xaxis.set_major_locator(MultipleLocator(200))
    ax.xaxis.set_minor_locator(MultipleLocator(20))

    ax.tick_params(axis='both', which='both', direction='in', colors=SPINE,
                   labelcolor='black', labelsize=FS, width=1.0)
    ax.tick_params(axis='both', which='major', length=11.5)
    ax.tick_params(axis='both', which='minor', length=5.5)
    ax.tick_params(axis='y', left=True, right=True, labelright=False, pad=14)
    ax.tick_params(axis='x', top=False, bottom=True, labelbottom=(i == len(panels) - 1), pad=15)
    for s in ax.spines.values():
        s.set_color(SPINE)
        s.set_linewidth(1.1)

    sec = ax.secondary_xaxis('top', functions=(to_phase, to_jd))
    sec.set_xticks(phase_major)
    sec.set_xticks(phase_minor, minor=True)
    sec.xaxis.set_major_formatter(FormatStrFormatter('%.1f'))
    sec.tick_params(axis='x', which='both', direction='in', colors=SPINE,
                    labelcolor='black', labelsize=FS, width=1.0, pad=15, labeltop=(i == 0))
    sec.tick_params(axis='x', which='major', length=11.5)
    sec.tick_params(axis='x', which='minor', length=5.5)
    sec.spines['top'].set_color(SPINE)
    sec.spines['top'].set_linewidth(1.1)

    ax.set_ylabel(p['label'], fontsize=FS)
    ax.yaxis.set_label_coords(-0.047, 0.5)

    if i == 0:
        ax.legend(handles=[prev_line], loc='lower right', bbox_to_anchor=(0.981, 0.030),
                  frameon=False, markerfirst=False, fontsize=FS, handlelength=3.1,
                  handletextpad=0.55, borderpad=0, borderaxespad=0)

fig.text(1214 / W, 1 - 87 / H, 'Phase', ha='center', va='center', fontsize=FS)
fig.text(1236 / W, 1 - 3407 / H, 'JD - 2450000', ha='center', va='center', fontsize=FS)

fig.savefig('out.png', dpi=100)
